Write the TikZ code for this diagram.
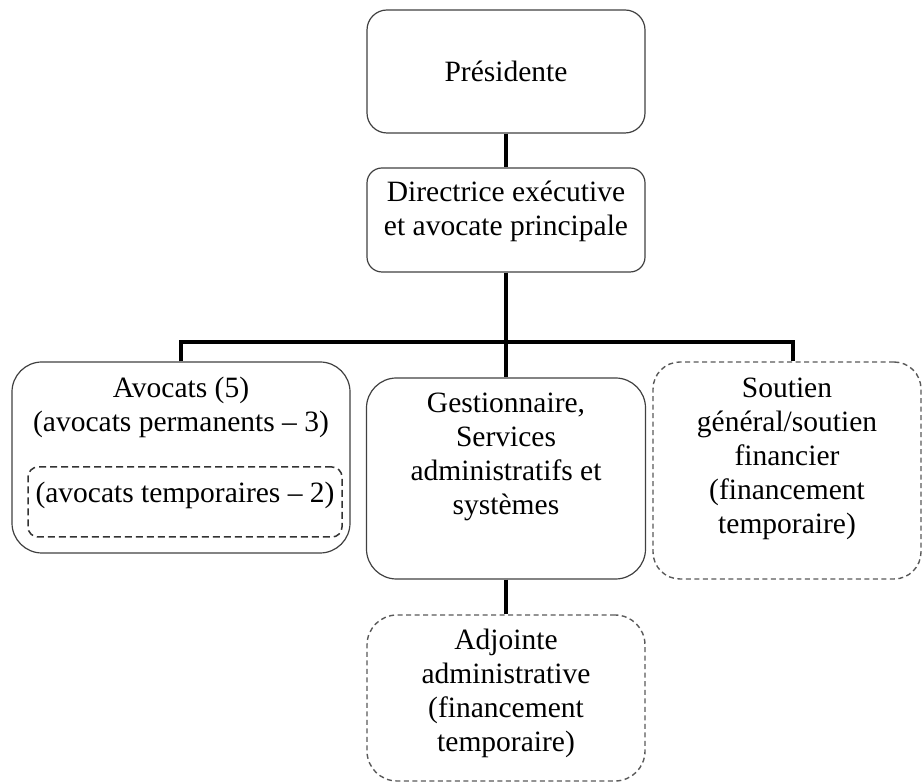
\documentclass[tikz,border=0pt]{standalone}
\usepackage{fontspec}
\setmainfont{Liberation Serif}
\usetikzlibrary{positioning, calc}

\begin{document}
\begin{tikzpicture}[
    x=1pt, y=1pt,
    box/.style={
        rectangle,
        draw=black!75,
        line width=1.2pt,
        rounded corners=30pt,
        inner sep=0pt
    },
    solidbox/.style={
        box
    },
    tempbox/.style={
        box,
        draw=black!65,
        line width=1.4pt,
        dash pattern=on 5pt off 3.5pt
    },
    txt/.style={
        align=center,
        inner sep=0pt,
        font=\fontsize{29.5}{34}\selectfont
    },
    link/.style={
        draw=black,
        line width=3.5pt
    }
]

\useasboundingbox (0,0) rectangle (923,783);

% ===== Cadres =====
\node[solidbox, rounded corners=20pt, minimum width=278pt, minimum height=123pt] (pres) at (506,711.5) {};
\node[solidbox, rounded corners=15pt, minimum width=278pt, minimum height=104pt] (dir) at (506,563) {};
\node[solidbox, minimum width=338pt, minimum height=191pt] (avo) at (181,325.5) {};
\node[tempbox, draw=black!80, line width=1.5pt, rounded corners=10pt, dash pattern=on 7pt off 4pt,
      minimum width=314pt, minimum height=70pt] (avoTmp) at (185,281) {};
\node[solidbox, minimum width=279pt, minimum height=201pt] (gest) at (506,304.5) {};
\node[tempbox, rounded corners=27pt, minimum width=268pt, minimum height=217pt] (sout) at (787,312.5) {};
\node[tempbox, minimum width=278pt, minimum height=166pt] (adj) at (506,85) {};

% ===== Textes =====
\node[txt] (presTxt) at (pres.center) {Présidente};
\node[txt] (dirTxt) at ([yshift=9pt]dir.center) {Directrice exécutive\\et avocate principale};
\node[txt] (avoTxt) at ([yshift=50.5pt]avo.center) {Avocats (5)\\(avocats permanents -- 3)};
\node[txt] (avoTmpTxt) at ([yshift=7pt]avoTmp.center) {(avocats temporaires -- 2)};
\node[txt] (gestTxt) at ([yshift=21.5pt]gest.center) {Gestionnaire,\\Services\\administratifs et\\systèmes};
\node[txt] (soutTxt) at ([yshift=12pt]sout.center) {Soutien\\général/soutien\\financier\\(financement\\temporaire)};
\node[txt] (adjTxt) at ([yshift=5pt]adj.center) {Adjointe\\administrative\\(financement\\temporaire)};

% ===== Liaisons =====
\coordinate (busL) at (181,441);
\coordinate (busR) at (793,441);
\coordinate (busM) at (dir.south |- busL);

\draw[link] (pres) -- (dir);
\draw[link] (dir) -- (busM);
\draw[link] (avo.north) -- (busL) -- (busR) -- (busR |- sout.north);
\draw[link] (busM) -- (gest);
\draw[link] (gest) -- (adj);

\end{tikzpicture}
\end{document}
